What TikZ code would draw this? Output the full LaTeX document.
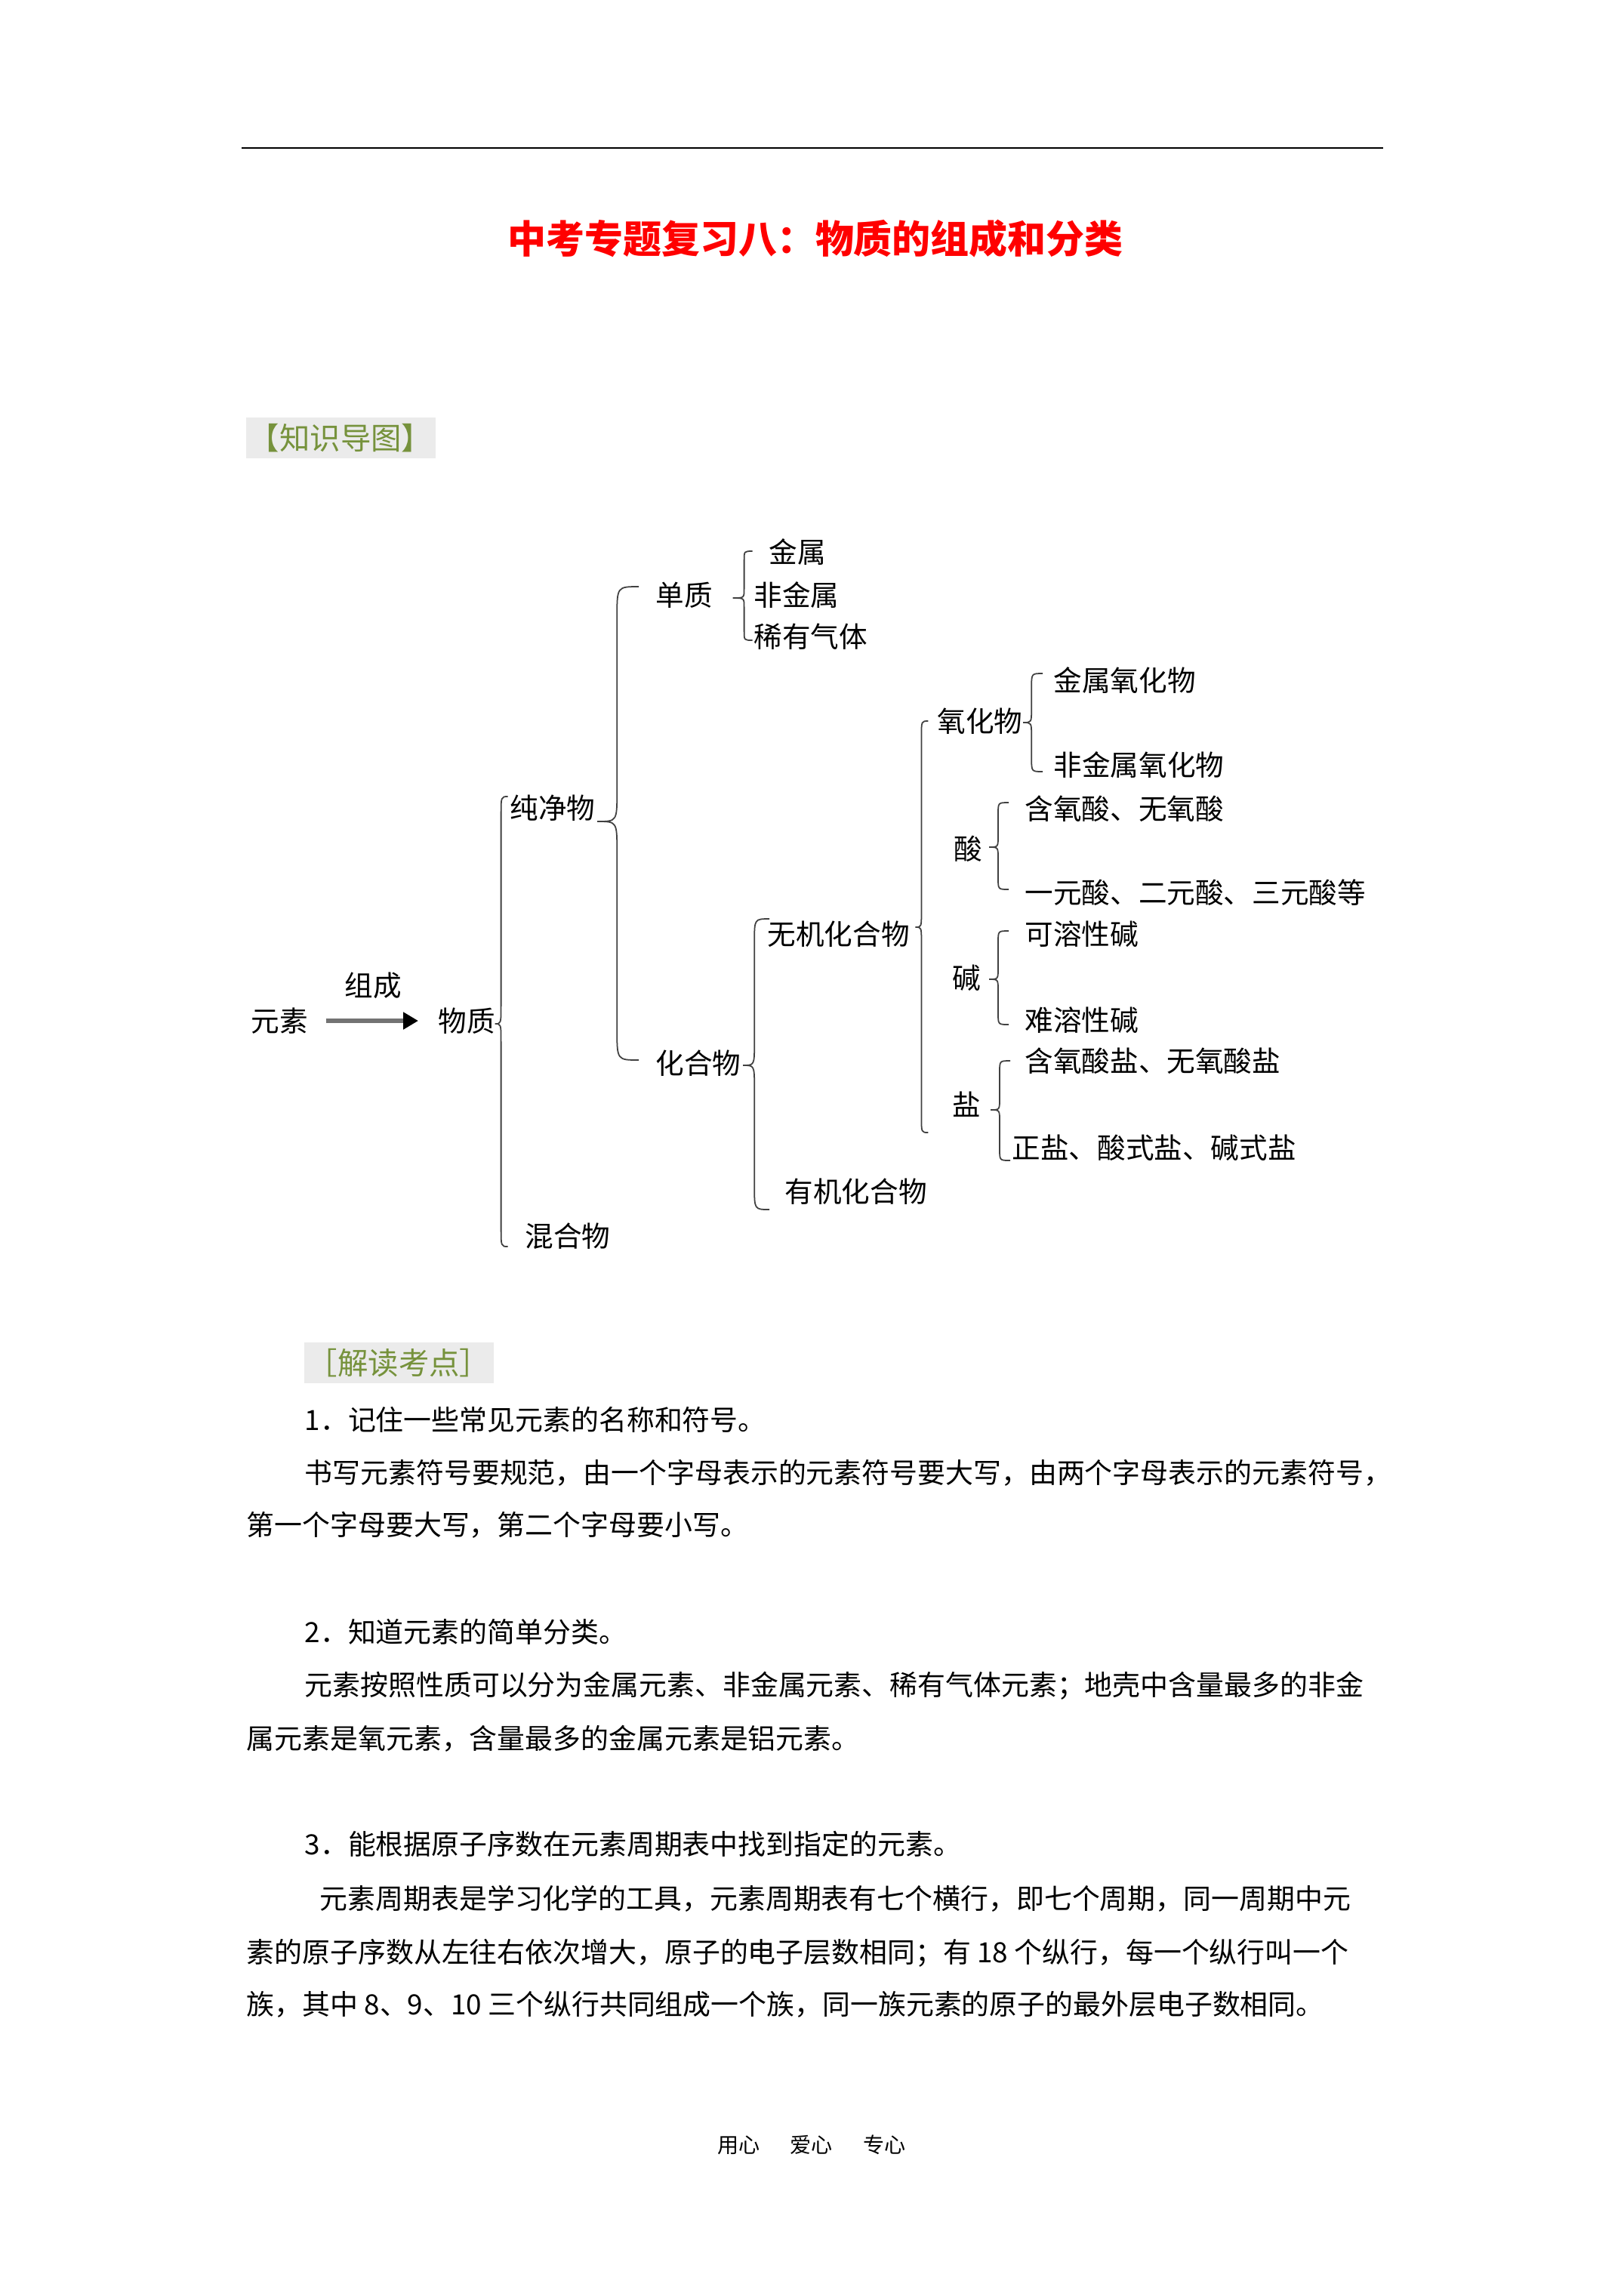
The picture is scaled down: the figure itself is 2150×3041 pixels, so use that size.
\documentclass[tikz,border=0pt]{standalone}
\usepackage{fontspec}
\setmainfont{Noto Sans CJK SC}
\usetikzlibrary{positioning,arrows.meta,calc}
\definecolor{zsred}{HTML}{FF0000}
\definecolor{zsgreen}{HTML}{76923C}
\definecolor{zsgray}{HTML}{EBEBEB}
% curly bracket: tip, offset of the stem, length of the ends, bend, top y, bottom y
\newcommand{\kuohao}[6]{%
  \coordinate (kt) at (#1);
  \coordinate (kv) at ($(kt)+(#2,0)$);
  \coordinate (ky1) at (0,#5);
  \coordinate (ky2) at (0,#6);
  \draw[brc] ($(kv|-ky1)+(#3,0)$) .. controls (kv|-ky1) .. ($(kv|-ky1)+(0,-#4)$)
    -- ($(kt)+(#2,#4)$) .. controls (kv) .. (kt)
    .. controls (kv) .. ($(kt)+(#2,-#4)$)
    -- ($(kv|-ky2)+(0,#4)$) .. controls (kv|-ky2) .. ($(kv|-ky2)+(#3,0)$);}

\begin{document}
\begin{tikzpicture}[x=0.1mm, y=0.1mm,
    font=\fontsize{10.7pt}{12pt}\selectfont,
    item/.style={anchor=west, inner sep=0pt},
    para/.style={anchor=west, inner sep=0pt, font=\fontsize{10.5pt}{12pt}\selectfont},
    tag/.style={fill=zsgray, text=zsgreen, inner sep=0pt, minimum width=25.1mm, minimum height=5.4mm,
      font=\fontsize{11.5pt}{12pt}\selectfont},
    brc/.style={draw=black!75, line width=0.5pt},
    flow/.style={draw=black!55, line width=0.6mm, -{Triangle[length=2mm, width=2.2mm, color=black]},
      shorten <=2.3mm, shorten >=2.6mm},
    lab/.style={inner sep=0pt}]
  \useasboundingbox[fill=white] (0,0) rectangle (2150,-3041);
  \draw[line width=0.25mm] (320,-196) -- (1832,-196);
  \node[text=zsred, font=\fontsize{14.5pt}{16pt}\selectfont\bfseries] (title) at (1080,-316) {中考专题复习八：物质的组成和分类};
  \node[tag] (map) at (451,-580) {【知识导图】};

  % the map
  \node[item] (yuansu) at (332,-1352) {元素};
  \node[item] (wuzhi) at (580,-1352) {物质};
  \draw[flow] (yuansu) -- node[lab, above=2.6mm]{组成} (wuzhi);
  \node[item] (pure) at (675,-1070) {纯净物};
  \node[item] (mixture) at (695,-1637) {混合物};
  \node[item] (danzhi) at (868,-788) {单质};
  \node[item] (huahewu) at (868,-1408) {化合物};
  \node[item] (jinshu) at (1018,-731) {金属};
  \node[item] (feijinshu) at (998,-788) {非金属};
  \node[item] (xiyou) at (998,-843) {稀有气体};
  \node[item] (wuji) at (1016,-1237) {无机化合物};
  \node[item] (youji) at (1039,-1578) {有机化合物};
  \node[item] (oxide) at (1241,-955) {氧化物};
  \node[item] (acid) at (1263,-1124) {酸};
  \node[item] (base) at (1261,-1295) {碱};
  \node[item] (salt) at (1261,-1463) {盐};
  \node[item] (metox) at (1395,-901) {金属氧化物};
  \node[item] (nonmetox) at (1395,-1013) {非金属氧化物};
  \node[item] (acidA) at (1357,-1071) {含氧酸、无氧酸};
  \node[item] (acidB) at (1357,-1182) {一元酸、二元酸、三元酸等};
  \node[item] (baseA) at (1357,-1237) {可溶性碱};
  \node[item] (baseB) at (1357,-1351) {难溶性碱};
  \node[item] (saltA) at (1357,-1405) {含氧酸盐、无氧酸盐};
  \node[item] (saltB) at (1340,-1520) {正盐、酸式盐、碱式盐};

  \kuohao{$(wuzhi.east)+(-1,-4)$}{8}{9}{25}{-1055}{-1651}
  \kuohao{$(pure.east)+(2,-18)$}{26}{29}{40}{-777}{-1404}
  \kuohao{$(danzhi.east)+(26,-4)$}{15}{11}{12}{-730}{-848}
  \kuohao{$(huahewu.east)+(2,-3)$}{15}{20}{30}{-1217}{-1602}
  \kuohao{$(wuji.east)+(7,9)$}{8}{9}{20}{-955}{-1500}
  \kuohao{$(oxide.east)+(0,-2)$}{11}{15}{18}{-892}{-1022}
  \kuohao{$(acid.east)+(8,2)$}{12}{14}{15}{-1063}{-1178}
  \kuohao{$(base.east)+(10,-2)$}{12}{14}{15}{-1233}{-1357}
  \kuohao{$(salt.east)+(12,-7)$}{12}{14}{15}{-1405}{-1537}

  % the notes
  \node[tag] (notes) at (528,-1805) {［解读考点］};
  \node[para] (p1) at (403,-1880) {1．记住一些常见元素的名称和符号。};
  \node[para] (p2) at (403,-1951) {书写元素符号要规范，由一个字母表示的元素符号要大写，由两个字母表示的元素符号，};
  \node[para] (p3) at (326,-2020) {第一个字母要大写，第二个字母要小写。};
  \node[para] (p4) at (403,-2161) {2．知道元素的简单分类。};
  \node[para] (p5) at (403,-2233) {元素按照性质可以分为金属元素、非金属元素、稀有气体元素；地壳中含量最多的非金};
  \node[para] (p6) at (326,-2303) {属元素是氧元素，含量最多的金属元素是铝元素。};
  \node[para] (p7) at (403,-2442) {3．能根据原子序数在元素周期表中找到指定的元素。};
  \node[para] (p8) at (423,-2515) {元素周期表是学习化学的工具，元素周期表有七个横行，即七个周期，同一周期中元};
  \node[para] (p9) at (326,-2587) {素的原子序数从左往右依次增大，原子的电子层数相同；有 18 个纵行，每一个纵行叫一个};
  \node[para] (p10) at (326,-2655) {族，其中 8、9、10 三个纵行共同组成一个族，同一族元素的原子的最外层电子数相同。};

  \node[font=\fontsize{8pt}{9pt}\selectfont] (foot) at (1075,-2841) {用心\hspace{4mm}爱心\hspace{4mm}专心};
\end{tikzpicture}
\end{document}
